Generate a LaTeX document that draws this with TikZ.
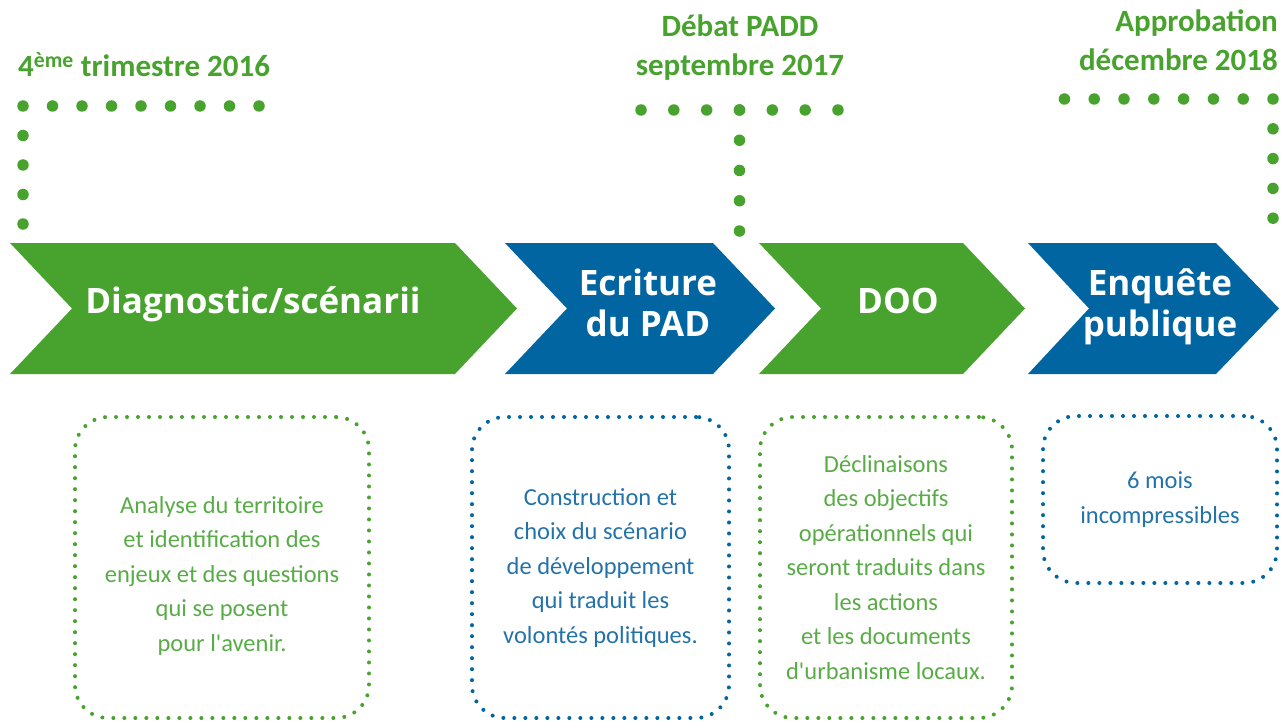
\documentclass[tikz,border=0pt]{standalone}
\usepackage{fontspec}
\setmainfont{Carlito}[Ligatures=TeXOff]
\newfontfamily\phasefont{Open Sans}
\usepackage{xcolor}
\usepackage{tikz}
\usetikzlibrary{positioning, calc}
\definecolor{plugreen}{RGB}{72, 162, 46}
\definecolor{plublue}{RGB}{0, 101, 161}
\definecolor{notegreen}{RGB}{88, 172, 70}
\definecolor{noteblue}{RGB}{36, 114, 170}
\tikzstyle{phasetext} = [text=white, font=\phasefont\bfseries\fontsize{35}{41}\selectfont, align=center, inner sep=0pt]
\tikzstyle{milestone} = [text=plugreen, font=\bfseries\fontsize{31}{39}\selectfont, inner sep=0pt]
\tikzstyle{dotmark} = [plugreen, line width=11.5pt, line cap=round]
\tikzstyle{notebox} = [rectangle, rounded corners=33pt, line width=4pt, line cap=round, dash pattern=on 0pt off 11pt, inner sep=0pt, align=center, font=\fontsize{24.5}{34.5}\selectfont]

\begin{document}
\begin{tikzpicture}[x=1pt, y=-1pt]
    \useasboundingbox (0,0) rectangle (1284,722);

    % Phases
    \fill[plugreen] (10,243) -- (455,243) -- (517,308.5) -- (455,374) -- (10,374) -- (72,308.5) -- cycle;
    \fill[plublue] (505,243) -- (713,243) -- (775,308.5) -- (713,374) -- (505,374) -- (567,308.5) -- cycle;
    \fill[plugreen] (759,243) -- (963,243) -- (1025,308.5) -- (963,374) -- (759,374) -- (821,308.5) -- cycle;
    \fill[plublue] (1028,243) -- (1216,243) -- (1279,308.5) -- (1216,374) -- (1028,374) -- (1089,308.5) -- cycle;

    \node[phasetext, anchor=base] (diag) at (253,313) {Diagnostic/scénarii};
    \node[phasetext, anchor=base] (padd) at (648,336) {Ecriture\\du PAD};
    \node[phasetext, anchor=base] (doo) at (898,313) {DOO};
    \node[phasetext, anchor=base] (enq) at (1160,336) {Enquête\\publique};

    % Milestones
    \node[milestone, anchor=base west] (start) at (18,77) {4\textsuperscript{ème} trimestre 2016};
    \node[milestone, anchor=base, align=center] (debat) at (740,76) {Débat PADD\\septembre 2017};
    \node[milestone, anchor=base east, align=right] (appro) at (1278,71) {Approbation\\décembre 2018};

    \coordinate (start-a) at (259,106);
    \coordinate (start-b) at (23,106);
    \coordinate (start-c) at (23,225);
    \draw[dotmark, dash pattern=on 0pt off 29.5pt] (start-a) -- (start-b) -- (start-c);

    \coordinate (debat-a) at (641,110);
    \coordinate (debat-b) at (838.5,110);
    \coordinate (debat-c) at (739.5,110);
    \coordinate (debat-d) at (739.5,232);
    \draw[dotmark, dash pattern=on 0pt off 32.83pt] (debat-a) -- (debat-b);
    \draw[dotmark, dash pattern=on 0pt off 30.25pt] (debat-c) -- (debat-d);

    \coordinate (appro-a) at (1064.4,99);
    \coordinate (appro-b) at (1273,99);
    \coordinate (appro-c) at (1273,219);
    \draw[dotmark, dash pattern=on 0pt off 29.8pt] (appro-a) -- (appro-b) -- (appro-c);

    % Notes
    \node[notebox, draw=plugreen, text=notegreen, minimum width=294pt, minimum height=301pt] (diagnote) at (222,567.5) {\rule{0pt}{33pt}Analyse du territoire\\et identification des\\enjeux et des questions\\qui se posent\\pour l'avenir.};
    \node[notebox, draw=plublue, text=noteblue, minimum width=257pt, minimum height=301pt] (paddnote) at (600.5,567.5) {Construction et\\choix du scénario\\de développement\\qui traduit les\\volontés politiques.};
    \node[notebox, draw=plugreen, text=notegreen, minimum width=252pt, minimum height=301pt] (doonote) at (886,567.5) {Déclinaisons\\des objectifs\\opérationnels qui\\seront traduits dans\\les actions\\et les documents\\d'urbanisme locaux.};
    \node[notebox, draw=plublue, text=noteblue, minimum width=234pt, minimum height=167pt] (enqnote) at (1160,499.5) {6 mois\\incompressibles};
\end{tikzpicture}
\end{document}
